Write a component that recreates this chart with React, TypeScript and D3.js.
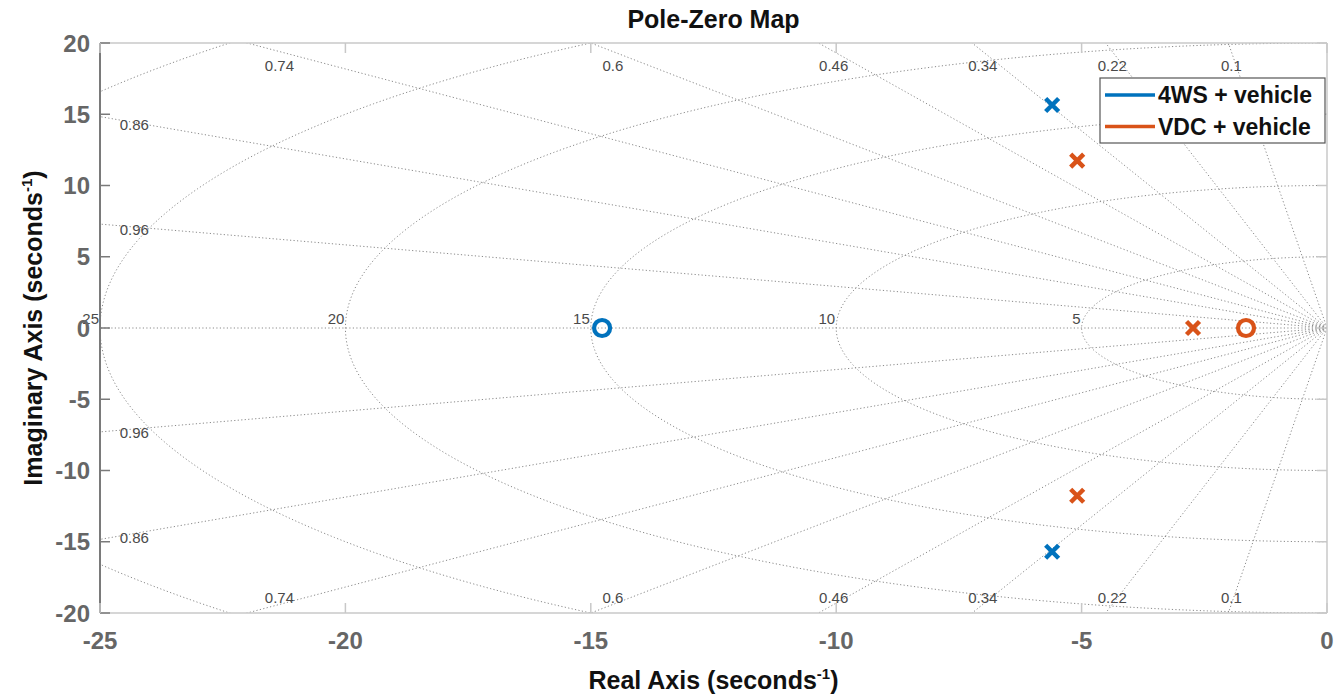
import React from "react";
import * as d3 from "d3";

const xTicks = [-25, -20, -15, -10, -5, 0];
const yTicks = [20, 15, 10, 5, 0, -5, -10, -15, -20];
const zetaValues = [0.1, 0.22, 0.34, 0.46, 0.6, 0.74, 0.86, 0.96];
const wnValues = [5, 10, 15, 20, 25, 30];
const wnLabelValues = [5, 10, 15, 20, 25];

const poles4WS = [
  { re: -5.6, im: 15.65 },
  { re: -5.6, im: -15.7 },
];
const zeros4WS = [{ re: -14.77, im: 0 }];
const polesVDC = [
  { re: -5.09, im: 11.75 },
  { re: -5.09, im: -11.77 },
  { re: -2.73, im: 0 },
];
const zerosVDC = [{ re: -1.65, im: 0 }];

const seriesNames = ["4WS + vehicle", "VDC + vehicle"];
const seriesColors = ["#0072BD", "#D95319"];

const W = 1341;
const H = 696;
const L = 100, R = 1327, T = 43, B = 613;
const FONT = "'Liberation Sans', Arial, Helvetica, sans-serif";

export default function App() {
  const x = d3.scaleLinear().domain([-25, 0]).range([L, R]);
  const y = d3.scaleLinear().domain([-20, 20]).range([B, T]);
  const line = d3.line<[number, number]>().x((d) => x(d[0])).y((d) => y(d[1]));

  const circles = wnValues.map((wn) => {
    const pts: [number, number][] = d3.range(0, 181).map((i) => {
      const phi = -Math.PI / 2 + (Math.PI * i) / 180;
      return [-wn * Math.cos(phi), wn * Math.sin(phi)];
    });
    return line(pts) as string;
  });

  const Rmax = 40;
  const rays: string[] = [];
  zetaValues.forEach((z) => {
    const th = Math.acos(z);
    rays.push(line([[0, 0], [-Rmax * Math.cos(th), Rmax * Math.sin(th)]]) as string);
    rays.push(line([[0, 0], [-Rmax * Math.cos(th), -Rmax * Math.sin(th)]]) as string);
  });
  rays.push(line([[0, 0], [-Rmax, 0]]) as string);

  const zetaLabels: { x: number; y: number; t: string }[] = [];
  zetaValues.forEach((z) => {
    const th = Math.acos(z);
    const tn = Math.tan(th);
    const yTopHit = -20 / tn;
    if (yTopHit > -25) {
      const xd = -19.4 / tn;
      zetaLabels.push({ x: x(xd), y: T + 22, t: String(z) });
      zetaLabels.push({ x: x(xd), y: B - 16, t: String(z) });
    } else {
      const xd = -24.3;
      const yd = -xd * tn;
      zetaLabels.push({ x: x(xd), y: y(yd) + 2, t: String(z) });
      zetaLabels.push({ x: x(xd), y: y(-yd) + 4, t: String(z) });
    }
  });

  const gridStroke = "#8a8a8a";
  const lightAxis = "#c8c8c8";
  const darkAxis = "#7a7a7a";

  const xMark = (cx: number, cy: number, color: string, key: string) => {
    const s = 6.5;
    return (
      <path
        key={key}
        d={`M${cx - s},${cy - s}L${cx + s},${cy + s}M${cx - s},${cy + s}L${cx + s},${cy - s}`}
        stroke={color}
        strokeWidth={4.5}
        fill="none"
      />
    );
  };
  const oMark = (cx: number, cy: number, color: string, key: string) => (
    <circle key={key} cx={cx} cy={cy} r={8} stroke={color} strokeWidth={4.2} fill="none" />
  );

  const series = [
    { poles: poles4WS, zeros: zeros4WS, color: seriesColors[0] },
    { poles: polesVDC, zeros: zerosVDC, color: seriesColors[1] },
  ];

  return (
    <svg
      width={W}
      height={H}
      style={{ position: "absolute", left: 0, top: 0, background: "#fff" }}
      fontFamily={FONT}
    >
      <rect x={0} y={0} width={W} height={H} fill="#fff" />
      <defs>
        <clipPath id="plotClip">
          <rect x={L} y={T} width={R - L} height={B - T} />
        </clipPath>
      </defs>

      <g clipPath="url(#plotClip)" fill="none" stroke={gridStroke} strokeWidth={1} strokeDasharray="1.2,2.3">
        {circles.map((d, i) => (
          <path key={"c" + i} d={d} />
        ))}
        {rays.map((d, i) => (
          <path key={"r" + i} d={d} />
        ))}
      </g>

      <g fontSize={15} fill="#4a4a4a">
        {zetaLabels.map((l, i) => (
          <text key={"z" + i} x={l.x} y={l.y} textAnchor="middle" dominantBaseline="central">
            {l.t}
          </text>
        ))}
        {wnLabelValues.map((wn) => (
          <text key={"w" + wn} x={x(-wn) - 1} y={y(0) - 4} textAnchor="end">
            {wn}
          </text>
        ))}
      </g>

      <line x1={L} y1={T} x2={R} y2={T} stroke={lightAxis} strokeWidth={1.5} />
      <line x1={R} y1={T} x2={R} y2={B} stroke={lightAxis} strokeWidth={1.5} />
      <line x1={L} y1={B} x2={R} y2={B} stroke={lightAxis} strokeWidth={1.5} />
      <line x1={L} y1={T} x2={L} y2={B} stroke={darkAxis} strokeWidth={2} />

      {yTicks.map((v) => (
        <g key={"yt" + v}>
          <line x1={L} x2={L + 10} y1={y(v)} y2={y(v)} stroke={darkAxis} strokeWidth={1.5} />
          <line x1={R} x2={R - 10} y1={y(v)} y2={y(v)} stroke={lightAxis} strokeWidth={1.5} />
          <text
            x={L - 10}
            y={y(v)}
            textAnchor="end"
            dominantBaseline="central"
            fontSize={24}
            fontWeight="bold"
            fill="#666"
          >
            {v}
          </text>
        </g>
      ))}
      {xTicks.map((v) => (
        <g key={"xt" + v}>
          <line x1={x(v)} x2={x(v)} y1={B} y2={B - 10} stroke={lightAxis} strokeWidth={1.5} />
          <line x1={x(v)} x2={x(v)} y1={T} y2={T + 10} stroke={lightAxis} strokeWidth={1.5} />
          <text
            x={x(v)}
            y={B + 36}
            textAnchor="middle"
            fontSize={24}
            fontWeight="bold"
            fill="#666"
          >
            {v}
          </text>
        </g>
      ))}

      {series.map((s, si) => (
        <g key={"s" + si}>
          {s.zeros.map((p, i) => oMark(x(p.re), y(p.im), s.color, `z${si}-${i}`))}
          {s.poles.map((p, i) => xMark(x(p.re), y(p.im), s.color, `p${si}-${i}`))}
        </g>
      ))}

      <g>
        <rect x={1100} y={78} width={225} height={65} fill="#fff" stroke="#555" strokeWidth={1.2} />
        {seriesNames.map((n, i) => (
          <g key={"lg" + i}>
            <line
              x1={1105}
              x2={1155}
              y1={95 + i * 31.5}
              y2={95 + i * 31.5}
              stroke={seriesColors[i]}
              strokeWidth={3.5}
            />
            <text x={1158} y={95 + i * 31.5} dominantBaseline="central" fontSize={23} fontWeight="bold" fill="#111">
              {n}
            </text>
          </g>
        ))}
      </g>

      <text x={(L + R) / 2} y={28} textAnchor="middle" fontSize={25} fontWeight="bold" fill="#111">
        Pole-Zero Map
      </text>
      <text x={(L + R) / 2} y={689} textAnchor="middle" fontSize={25} fontWeight="bold" fill="#111">
        Real Axis (seconds
        <tspan fontSize={15} dy={-10}>-1</tspan>
        <tspan dy={10}>)</tspan>
      </text>
      <text
        transform={`translate(42,${(T + B) / 2}) rotate(-90)`}
        textAnchor="middle"
        fontSize={25}
        fontWeight="bold"
        fill="#111"
      >
        Imaginary Axis (seconds
        <tspan fontSize={15} dy={-10}>-1</tspan>
        <tspan dy={10}>)</tspan>
      </text>
    </svg>
  );
}
